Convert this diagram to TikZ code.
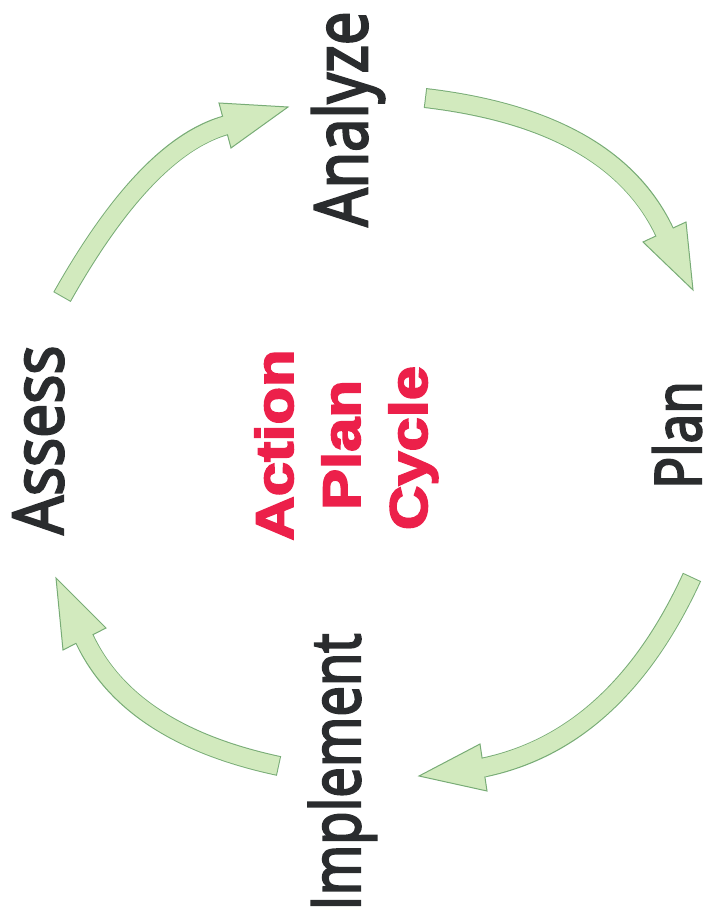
\documentclass[tikz,border=0pt]{standalone}
\usepackage{fontspec}
\usetikzlibrary{calc}
\newfontfamily\handfont[FakeBold=3.5]{Open Sans}
\newfontfamily\titlefont[BoldFeatures={FakeBold=3}]{Liberation Sans}
\definecolor{arrowfillc}{RGB}{210,234,190}
\definecolor{arrowedgec}{RGB}{120,172,118}
\definecolor{inkc}{RGB}{42,44,46}
\definecolor{titlec}{RGB}{236,32,74}
\begin{document}
\begin{tikzpicture}[x=1pt,y=-1pt,
  hand/.style={inner sep=0pt, anchor=base, rotate=90, text=inkc,
    font=\handfont\fontsize{#1}{#1}\selectfont},
  title/.style={inner sep=0pt, anchor=base, rotate=90, text=titlec,
    font=\titlefont\bfseries\fontsize{53}{60}\selectfont, xscale=1.16},
  shaftedge/.style={draw=arrowedgec, line width=20pt},
  shaftfill/.style={draw=arrowfillc, line width=18pt, shorten >=-2pt, shorten <=1pt},
  headstyle/.style={fill=arrowfillc, draw=arrowedgec, line width=1pt, line join=miter}]
\useasboundingbox (0,0) rectangle (713,917);

% labels
\node[hand=73, xscale=0.82] (analyze) at (367,119) {Analyze};
\node[hand=70, xscale=0.87] (assess) at (63,440) {Assess};
\node[hand=64, xscale=0.83] (plan) at (701,435) {Plan};
\node[hand=68, xscale=0.80] (implement) at (360,772) {Implement};

% centre title
\node[title] (action) at (293,445) {Action};
\node[title] (plant) at (360,445) {Plan};
\node[title] (cycle) at (427,448) {Cycle};

% arrow 1: Assess -> Analyze
\coordinate (a1t) at (62,297);
\coordinate (a1c) at (146,148);
\coordinate (a1p) at (288,107);
\coordinate (a1l) at (219,103);
\coordinate (a1r) at (231,148);
\coordinate (a1b) at ($(a1l)!0.5!(a1r)$);
% arrow 2: Analyze -> Plan
\coordinate (a2t) at (425,98);
\coordinate (a2c) at (612,120);
\coordinate (a2p) at (693,290);
\coordinate (a2l) at (686,222);
\coordinate (a2r) at (643,242);
\coordinate (a2b) at ($(a2l)!0.5!(a2r)$);
% arrow 3: Plan -> Implement
\coordinate (a3t) at (692,577);
\coordinate (a3c) at (617,740);
\coordinate (a3p) at (419,776);
\coordinate (a3l) at (480,744);
\coordinate (a3r) at (487,791);
\coordinate (a3b) at ($(a3l)!0.5!(a3r)$);
% arrow 4: Implement -> Assess
\coordinate (a4t) at (279,766);
\coordinate (a4c) at (129,734);
\coordinate (a4p) at (56,578);
\coordinate (a4l) at (106,628);
\coordinate (a4r) at (63,650);
\coordinate (a4b) at ($(a4l)!0.5!(a4r)$);

\foreach \k in {1,2,3,4}{
  \draw[shaftedge] (a\k t) .. controls ($(a\k t)!2/3!(a\k c)$) and ($(a\k b)!2/3!(a\k c)$) .. (a\k b);
  \filldraw[headstyle] (a\k p) -- (a\k l) -- (a\k r) -- cycle;
  \draw[shaftfill] (a\k t) .. controls ($(a\k t)!2/3!(a\k c)$) and ($(a\k b)!2/3!(a\k c)$) .. (a\k b);
}
\end{tikzpicture}
\end{document}
